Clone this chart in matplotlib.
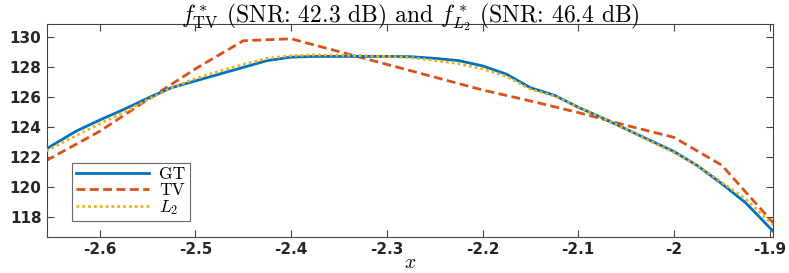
import matplotlib
matplotlib.use("Agg")
import matplotlib.pyplot as plt

plt.rcParams['mathtext.fontset'] = 'cm'
plt.rcParams['axes.unicode_minus'] = False

# Data
x_gt = [-2.656, -2.625, -2.6, -2.575, -2.55, -2.525, -2.5, -2.475, -2.45, -2.425,
        -2.4, -2.375, -2.35, -2.325, -2.3, -2.275, -2.25, -2.225, -2.2, -2.175,
        -2.15, -2.125, -2.1, -2.075, -2.05, -2.025, -2.0, -1.975, -1.95, -1.925, -1.896]
gt = [122.52, 123.7, 124.45, 125.15, 125.9, 126.6, 127.05, 127.5, 127.95, 128.4,
      128.63, 128.68, 128.68, 128.68, 128.68, 128.66, 128.55, 128.4, 128.05, 127.5,
      126.6, 126.1, 125.3, 124.6, 123.85, 123.1, 122.36, 121.4, 120.22, 118.95, 117.04]
l2 = [122.4, 123.4, 124.2, 124.95, 125.8, 126.6, 127.2, 127.7, 128.15, 128.55,
      128.73, 128.78, 128.76, 128.73, 128.68, 128.6, 128.4, 128.2, 127.85, 127.35,
      126.5, 126.05, 125.3, 124.6, 123.85, 123.05, 122.3, 121.4, 120.32, 119.2, 117.45]

x_tv = [-2.656, -2.6, -2.55, -2.5, -2.45, -2.4, -2.35, -2.3, -2.25, -2.2,
        -2.15, -2.1, -2.05, -2.0, -1.95, -1.896]
tv = [121.75, 123.7, 125.8, 127.85, 129.72, 129.85, 129.0, 128.15, 127.3, 126.45,
      125.72, 124.95, 124.1, 123.3, 121.45, 117.6]

xticks = [-2.6, -2.5, -2.4, -2.3, -2.2, -2.1, -2.0, -1.9]
xtick_labels = ['-2.6', '-2.5', '-2.4', '-2.3', '-2.2', '-2.1', '-2', '-1.9']
yticks = [118, 120, 122, 124, 126, 128, 130]
ytick_labels = ['118', '120', '122', '124', '126', '128', '130']

fig = plt.figure(figsize=(7.89, 2.73), dpi=100)
ax = fig.add_axes([0.0596, 0.133, 0.9207, 0.7773])

ax.plot(x_gt, gt, color='#0072BD', lw=2.0, label='GT', zorder=3)
ax.plot(x_tv, tv, color='#D95319', lw=2.0, ls=(0, (3.2, 1.6)), label='TV', zorder=2)
ax.plot(x_gt, l2, color='#EDB120', lw=2.0, ls=(0, (1.0, 1.1)), label='$L_2$', zorder=4)

ax.set_xlim(-2.655, -1.896)
ax.set_ylim(116.7, 130.8)
ax.set_xticks(xticks)
ax.set_xticklabels(xtick_labels)
ax.set_yticks(yticks)
ax.set_yticklabels(ytick_labels)

for sp in ax.spines.values():
    sp.set_color('#444444')
    sp.set_linewidth(0.8)
ax.tick_params(direction='in', top=True, right=True, length=5, width=0.8,
               color='#444444', labelsize=11, pad=4)
for lab in ax.get_xticklabels() + ax.get_yticklabels():
    lab.set_fontweight('bold')
    lab.set_family('DejaVu Sans')
    lab.set_color('#262626')

ax.set_title(r'$f^*_{\mathrm{TV}}$ (SNR: 42.3 dB) and $f^*_{L_2}$ (SNR: 46.4 dB)',
             family='cmr10', fontsize=17, pad=2)
ax.set_xlabel('$x$', fontsize=14, labelpad=-3)

leg = ax.legend(loc='lower left', bbox_to_anchor=(0.034, 0.074), fancybox=False,
                prop={'family': 'cmr10', 'size': 12.5}, handlelength=4.2,
                borderpad=0.25, labelspacing=0.0, handletextpad=0.6,
                borderaxespad=0)
leg.get_frame().set_edgecolor('#444444')
leg.get_frame().set_linewidth(0.8)

fig.savefig('out.png', dpi=100)
